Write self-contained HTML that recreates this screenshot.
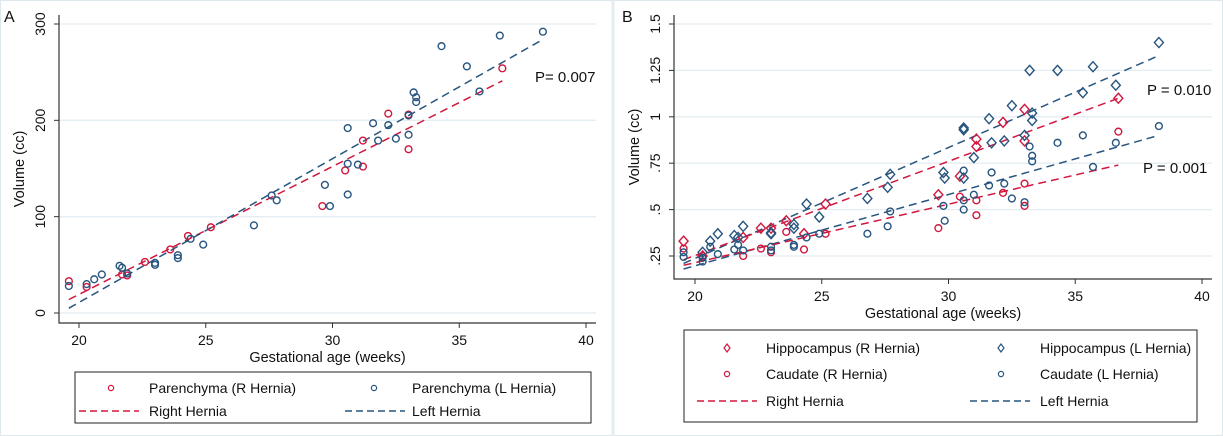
<!DOCTYPE html>
<html><head><meta charset="utf-8"><style>
html,body{margin:0;padding:0;background:#fff}
svg{display:block;font-family:"Liberation Sans",sans-serif}
</style></head><body>
<svg id="fig" width="1223" height="436" viewBox="0 0 1223 436">
<rect x="0.5" y="0.5" width="1222" height="435" fill="none" stroke="#dde7ec"/>
<line x1="613" y1="0" x2="613" y2="436" stroke="#e3ecf1" stroke-width="3"/>
<g id="pa"></g>
<g id="pb"></g>
</svg>
<script>
// ---------- Data ----------
const xTicks = [20, 25, 30, 35, 40];
const aYTicks = [0, 100, 200, 300];
const bYTicks = [0.25, 0.5, 0.75, 1, 1.25, 1.5];
const bYTickLabels = [".25", ".5", ".75", "1", "1.25", "1.5"];

const parRx = [19.6,20.3,21.7,21.9,22.6,23.6,24.3,25.2,29.6,30.5,31.2,31.2,32.2,33,33,36.7];
const parRy = [33,27,40,39,53,66,80,89,111,148,179,152,207,206,170,254];
const parLx = [19.6,20.3,20.6,20.9,21.6,21.7,21.9,23,23,23.9,23.9,24.4,24.9,26.9,27.6,27.8,29.7,29.9,30.6,30.6,30.6,31,31.6,31.8,32.2,32.5,33,33,33.2,33.3,33.3,34.3,35.3,35.8,36.6,38.3];
const parLy = [28,30,35,40,49,47,41,52,50,60,57,77,71,91,122,117,133,111,192,155,123,154,197,179,195,181,205,185,229,224,219,277,256,230,288,292];
const aRightLineX = [19.6, 36.7];
const aRightLineY = [14, 241];
const aLeftLineX = [19.6, 38.3];
const aLeftLineY = [5, 284];

const hipRx = [19.55,20.3,21.9,22.6,23.0,23.6,24.3,25.15,29.6,30.45,31.1,31.1,32.15,33.0,33.0,36.7];
const hipRy = [0.33,0.25,0.35,0.40,0.40,0.44,0.37,0.53,0.58,0.68,0.88,0.84,0.97,1.04,0.87,1.10];
const hipLx = [20.3,20.6,20.9,21.55,21.7,21.9,23.0,23.0,23.9,23.9,24.4,24.9,26.8,27.7,27.6,29.8,29.85,30.6,30.6,30.6,31.0,31.6,31.7,32.2,32.5,33.0,33.2,33.3,33.3,34.3,35.3,35.7,36.6,38.3];
const hipLy = [0.27,0.33,0.37,0.36,0.35,0.41,0.375,0.37,0.42,0.40,0.53,0.46,0.56,0.69,0.62,0.70,0.67,0.93,0.94,0.67,0.78,0.99,0.86,0.87,1.06,0.90,1.25,1.02,0.98,1.25,1.13,1.27,1.17,1.40];
const caudRx = [19.55,20.3,21.9,22.6,23.0,23.6,24.3,25.15,29.6,30.45,31.1,31.1,32.15,33.0,33.0,36.7];
const caudRy = [0.29,0.25,0.25,0.29,0.27,0.38,0.285,0.37,0.40,0.57,0.55,0.47,0.59,0.64,0.52,0.92];
const caudLx = [19.55,19.55,20.3,20.3,20.6,20.9,21.55,21.7,21.9,23.0,23.0,23.9,23.9,24.4,24.9,26.8,27.6,27.7,29.8,29.85,30.6,30.6,30.6,31.0,31.6,31.7,32.2,32.5,33.0,33.2,33.3,33.3,34.3,35.3,35.7,36.6,38.3];
const caudLy = [0.245,0.27,0.22,0.24,0.30,0.26,0.285,0.31,0.28,0.30,0.28,0.30,0.31,0.35,0.37,0.37,0.41,0.49,0.52,0.44,0.71,0.55,0.50,0.58,0.63,0.70,0.64,0.56,0.54,0.84,0.79,0.76,0.86,0.90,0.73,0.86,0.95];
const hipRLineX = [19.55, 36.7];  const hipRLineY = [0.23, 1.10];
const hipLLineX = [19.55, 38.3];  const hipLLineY = [0.21, 1.33];
const caudRLineX = [19.55, 36.7]; const caudRLineY = [0.20, 0.74];
const caudLLineX = [19.55, 38.3]; const caudLLineY = [0.18, 0.90];

// ---------- Drawing ----------
const NS = "http://www.w3.org/2000/svg";
const RED = "#d2173e", BLUE = "#27557f", GRID = "#e4edf1";
function mk(parent, tag, attrs, text) {
  const e = document.createElementNS(NS, tag);
  for (const k in attrs) e.setAttribute(k, attrs[k]);
  if (text !== undefined) e.textContent = text;
  parent.appendChild(e);
  return e;
}
function drawPanel(g, cfg) {
  const sx = v => cfg.x0 + (v - 20) * (cfg.x1 - cfg.x0) / 20;
  const sy = v => cfg.y0 + (v - cfg.v0) * (cfg.y1 - cfg.y0) / (cfg.v1 - cfg.v0);
  cfg.yTicks.forEach((t, i) => {
    const y = sy(t);
    const gl = mk(g, "line", {x1: cfg.axL, x2: cfg.right, y1: y, y2: y, stroke: GRID, "stroke-width": 1.3});
    
    
    const tk = mk(g, "line", {x1: cfg.axL - 5, x2: cfg.axL, y1: y, y2: y, stroke: "#333"});
    
    
    const lx = cfg.axL - 14;
    const tl = mk(g, "text", {x: lx, y: y, "font-size": 14, "text-anchor": "middle", transform: `rotate(-90 ${lx} ${y})`, fill: "#111"}, cfg.yLabels[i]);
    
    
  });
  xTicks.forEach(t => {
    const x = sx(t);
    const tk = mk(g, "line", {x1: x, x2: x, y1: cfg.axB, y2: cfg.axB + 5, stroke: "#333"});
    
    
    const tl = mk(g, "text", {x: x, y: cfg.axB + 22, "font-size": 14, "text-anchor": "middle", fill: "#111"}, String(t));
    
    
  });
  const ax = mk(g, "polyline", {points: `${cfg.axL},${cfg.top} ${cfg.axL},${cfg.axB} ${cfg.right},${cfg.axB}`, fill: "none", stroke: "#333", "stroke-width": 1.2});
  
  
  const xt = mk(g, "text", {x: (cfg.axL + cfg.right) / 2, y: cfg.axB + 39, "font-size": 14.5, "text-anchor": "middle", fill: "#111"}, "Gestational age (weeks)");
  
  
  const yx = cfg.axL - 35, yy = (cfg.top + cfg.axB) / 2;
  const yt = mk(g, "text", {x: yx, y: yy, "font-size": 14.5, "text-anchor": "middle", transform: `rotate(-90 ${yx} ${yy})`, fill: "#111"}, "Volume (cc)");
  
  
  cfg.lines.forEach(L => {
    const l = mk(g, "line", {x1: sx(L.x[0]), y1: sy(L.y[0]), x2: sx(L.x[1]), y2: sy(L.y[1]), stroke: L.c, "stroke-width": 1.5, "stroke-dasharray": "8 5"});
    
    
  });
  cfg.series.forEach(S => {
    S.x.forEach((xv, i) => {
      const px = sx(xv), py = sy(S.y[i]);
      let m;
      if (S.shape === "d") m = mk(g, "polygon", {points: `${px},${py-5} ${px+4.5},${py} ${px},${py+5} ${px-4.5},${py}`, fill: "none", stroke: S.c, "stroke-width": 1.4});
      else m = mk(g, "circle", {cx: px, cy: py, r: 3.4, fill: "none", stroke: S.c, "stroke-width": 1.4});
      
      
    });
  });
}
function legendMarker(g, shape, x, y, c) {
  if (shape === "d") return mk(g, "polygon", {points: `${x},${y-4} ${x+3},${y} ${x},${y+4} ${x-3},${y}`, fill: "none", stroke: c, "stroke-width": 1.2});
  return mk(g, "circle", {cx: x, cy: y, r: 2.6, fill: "none", stroke: c, "stroke-width": 1.2});
}
function legend(g, box, items) {
  const r = mk(g, "rect", {x: box[0], y: box[1], width: box[2], height: box[3], fill: "#fff", stroke: "#222", "stroke-width": 1});
  
  
  items.forEach(it => {
    let m;
    if (it.shape === "l") m = mk(g, "line", {x1: it.mx - 30, x2: it.mx + 30, y1: it.y, y2: it.y, stroke: it.c, "stroke-width": 1.5, "stroke-dasharray": "7 4"});
    else m = legendMarker(g, it.shape, it.mx, it.y, it.c);
    
    
    const t = mk(g, "text", {x: it.tx, y: it.y + 5, "font-size": 14, fill: "#111"}, it.t);
    
    
  });
}
function label(g, x, y, s, size, name) {
  const t = mk(g, "text", {x: x, y: y, "font-size": size, fill: "#111"}, s);
  
  
}

const pa = document.getElementById("pa");
drawPanel(pa, {x0: 79, x1: 586, y0: 313, y1: 24, v0: 0, v1: 300, axL: 59, axB: 323, top: 15, right: 596,
  yTicks: aYTicks, yLabels: aYTicks.map(String),
  lines: [{x: aRightLineX, y: aRightLineY, c: RED, name: "right-hernia-line"}, {x: aLeftLineX, y: aLeftLineY, c: BLUE, name: "left-hernia-line"}],
  series: [{x: parRx, y: parRy, c: RED, shape: "o", name: "parenchyma-r-point"}, {x: parLx, y: parLy, c: BLUE, shape: "o", name: "parenchyma-l-point"}]});
label(pa, 4, 22, "A", 16, "panel-a-label");
label(pa, 535, 82, "P= 0.007", 15, "p-value-a");
legend(pa, [75, 372, 516, 51], [
  {shape: "o", mx: 111, tx: 149, y: 388, c: RED, t: "Parenchyma (R Hernia)"},
  {shape: "o", mx: 374, tx: 412, y: 388, c: BLUE, t: "Parenchyma (L Hernia)"},
  {shape: "l", mx: 109, tx: 149, y: 411, c: RED, t: "Right Hernia"},
  {shape: "l", mx: 375, tx: 412, y: 411, c: BLUE, t: "Left Hernia"}]);

const pb = document.getElementById("pb");
drawPanel(pb, {x0: 695, x1: 1202, y0: 256, y1: 24, v0: 0.25, v1: 1.5, axL: 674, axB: 279, top: 15, right: 1212,
  yTicks: bYTicks, yLabels: bYTickLabels,
  lines: [{x: hipLLineX, y: hipLLineY, c: BLUE, name: "hippocampus-left-line"}, {x: hipRLineX, y: hipRLineY, c: RED, name: "hippocampus-right-line"},
          {x: caudLLineX, y: caudLLineY, c: BLUE, name: "caudate-left-line"}, {x: caudRLineX, y: caudRLineY, c: RED, name: "caudate-right-line"}],
  series: [{x: hipRx, y: hipRy, c: RED, shape: "d", name: "hippocampus-r-point"}, {x: hipLx, y: hipLy, c: BLUE, shape: "d", name: "hippocampus-l-point"},
           {x: caudRx, y: caudRy, c: RED, shape: "o", name: "caudate-r-point"}, {x: caudLx, y: caudLy, c: BLUE, shape: "o", name: "caudate-l-point"}]});
label(pb, 622, 22, "B", 16, "panel-b-label");
label(pb, 1147, 95, "P = 0.010", 15, "p-value-hippocampus");
label(pb, 1143, 173, "P = 0.001", 15, "p-value-caudate");
legend(pb, [684, 330, 513, 92], [
  {shape: "d", mx: 727, tx: 766, y: 348, c: RED, t: "Hippocampus (R Hernia)"},
  {shape: "d", mx: 1001, tx: 1040, y: 348, c: BLUE, t: "Hippocampus (L Hernia)"},
  {shape: "o", mx: 727, tx: 766, y: 374, c: RED, t: "Caudate (R Hernia)"},
  {shape: "o", mx: 1001, tx: 1040, y: 374, c: BLUE, t: "Caudate (L Hernia)"},
  {shape: "l", mx: 727, tx: 766, y: 401, c: RED, t: "Right Hernia"},
  {shape: "l", mx: 1000, tx: 1040, y: 401, c: BLUE, t: "Left Hernia"}]);
</script>
</body></html>
